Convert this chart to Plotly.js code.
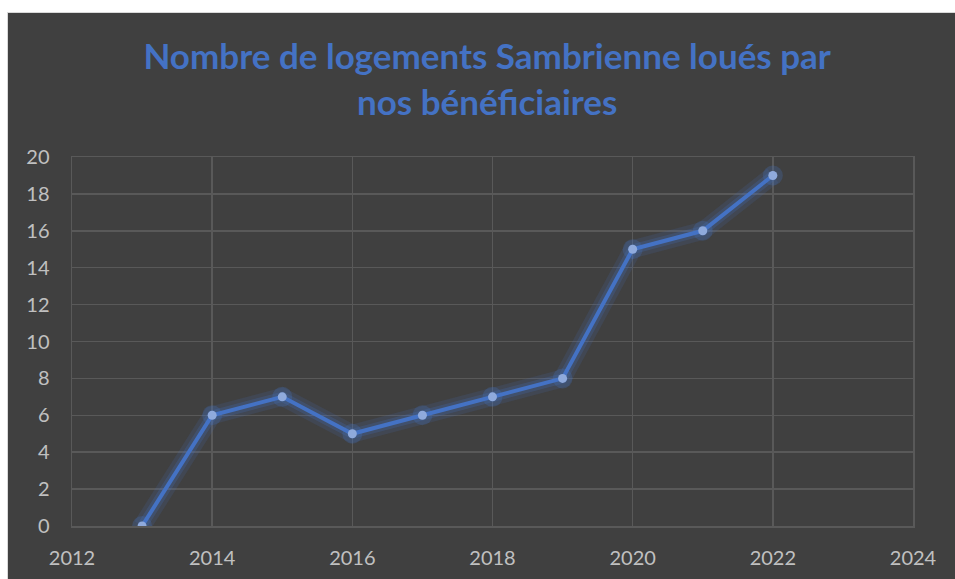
<!DOCTYPE html>
<html>
<head>
<meta charset="utf-8">
<script src="https://cdn.plot.ly/plotly-3.0.1.min.js"></script>
<style>
html, body { margin: 0; padding: 0; background: #ffffff; width: 955px; height: 579px; overflow: hidden; }
#frame { position: absolute; left: 7px; top: 12px; width: 948px; height: 567px; background: #d9d9d9; }
#chart { position: absolute; left: 8px; top: 13px; width: 947px; height: 566px; }
</style>
</head>
<body>
<div id="frame"></div>
<div id="chart"></div>
<script>
const years = [2013, 2014, 2015, 2016, 2017, 2018, 2019, 2020, 2021, 2022];
const logements = [0, 6, 7, 5, 6, 7, 8, 15, 16, 19];
const titleText = 'Nombre de logements Sambrienne loués par<br>nos bénéficiaires';

const glow = {
  x: years, y: logements, type: 'scatter', mode: 'lines',
  line: { color: 'rgba(68,114,196,0.14)', width: 18 },
  hoverinfo: 'skip', showlegend: false
};
const glowInner = {
  x: years, y: logements, type: 'scatter', mode: 'lines',
  line: { color: 'rgba(68,114,196,0.22)', width: 10 },
  hoverinfo: 'skip', showlegend: false
};
const glowPts = {
  x: years, y: logements, type: 'scatter', mode: 'markers',
  marker: { color: 'rgba(68,114,196,0.25)', size: 20 },
  hoverinfo: 'skip', showlegend: false
};
const main = {
  x: years, y: logements, type: 'scatter', mode: 'lines+markers',
  line: { color: '#4472C4', width: 4 },
  marker: { color: '#8FAADC', size: 9, line: { width: 0 } },
  showlegend: false
};

const axisFont = { family: 'Lato, "Open Sans", sans-serif', size: 20, color: '#c0c0c0' };

const layout = {
  width: 947, height: 566,
  paper_bgcolor: '#404040', plot_bgcolor: '#404040',
  margin: { l: 64, r: 42, t: 144, b: 53 },
  title: {
    text: titleText,
    font: { family: 'Lato, "Open Sans", sans-serif', size: 35, color: '#4472C4', weight: 'bold' },
    x: 0.506, xanchor: 'center', xref: 'container',
    y: 1 - 56 / 566, yanchor: 'top', yref: 'container'
  },
  xaxis: {
    range: [2012, 2024], dtick: 2, tick0: 2012,
    showgrid: true, gridcolor: '#595959', gridwidth: 1.5,
    showline: true, linecolor: '#595959', linewidth: 1.5, mirror: true,
    zeroline: false, ticks: '', tickfont: axisFont, ticklabelstandoff: 13,
    fixedrange: true
  },
  yaxis: {
    range: [0, 20], dtick: 2, tick0: 0,
    showgrid: true, gridcolor: '#595959', gridwidth: 1.5,
    showline: true, linecolor: '#595959', linewidth: 1.5, mirror: true,
    zeroline: false, ticks: '', tickfont: axisFont, ticklabelstandoff: 17,
    fixedrange: true
  }
};

Plotly.newPlot('chart', [glow, glowInner, glowPts, main], layout, { displayModeBar: false, staticPlot: true });
</script>
</body>
</html>
